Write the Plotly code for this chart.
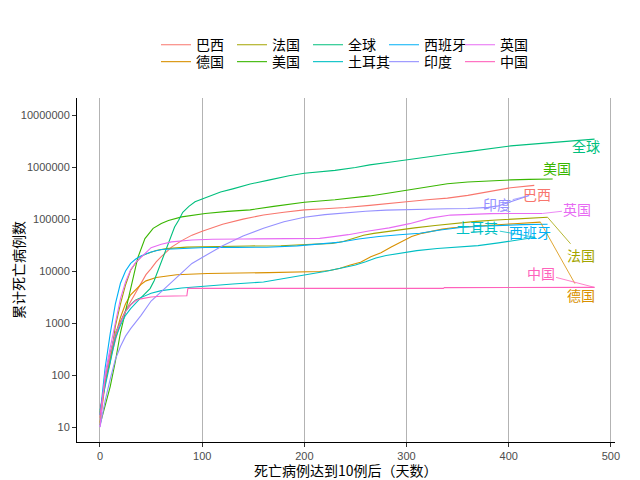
""" 累计死亡病例数：死亡病例达到10例后的天数 """
import numpy as np
import plotly.graph_objects as go

# Values (day since 10th death, cumulative deaths)
brazil_days = [0, 5, 10, 15, 20, 25, 30, 35, 40, 45, 50, 55, 60, 70, 80, 90, 100, 120, 140, 160,
               180, 200, 220, 240, 264, 280, 300, 320, 340, 360, 380, 402, 425]
brazil_deaths = [15, 77, 201, 486, 1057, 1736, 2575, 4016, 5901, 8500, 11123, 15000, 18859, 28834,
                 38406, 48954, 58314, 79488, 99572, 119504, 135000, 150000, 158000, 166000, 183000,
                 194000, 215000, 235000, 252000, 285000, 335000, 400000, 444000]

germany_days = [0, 5, 10, 15, 20, 25, 30, 35, 40, 45, 55, 75, 105, 165, 195, 215, 225, 235, 245, 255,
                265, 275, 285, 295, 305, 315, 325, 335, 345, 365, 385, 405, 431]
germany_deaths = [12, 67, 206, 560, 1275, 2349, 3495, 4459, 5500, 6467, 7510, 8500, 8960, 9300, 9500,
                  9800, 10200, 11300, 13000, 14800, 18800, 22400, 29000, 37000, 46000, 53000, 59000,
                  64000, 68000, 73000, 76900, 81000, 87000]

france_days = [0, 5, 10, 15, 20, 25, 30, 35, 40, 45, 55, 65, 85, 115, 146, 177, 207, 227, 238, 248,
               258, 268, 288, 308, 328, 348, 368, 388, 408, 428, 438]
france_deaths = [19, 79, 175, 860, 2314, 5387, 10328, 14393, 18681, 21340, 24760, 26991, 28800, 29800,
                 30300, 30700, 32000, 34000, 37000, 42500, 48700, 53000, 60500, 67500, 75000, 83000,
                 90000, 95600, 101000, 106000, 108000]

usa_days = [0, 5, 10, 15, 20, 23, 28, 33, 37, 44, 52, 60, 67, 80, 90, 103, 125, 147, 170, 200, 230,
            250, 264, 280, 300, 320, 340, 360, 380, 402, 420, 443]
usa_deaths = [11, 25, 60, 180, 650, 1150, 3200, 7700, 18000, 42000, 66000, 82000, 94000, 110000,
              118000, 128000, 140000, 150000, 175000, 210000, 234000, 255000, 278000, 310000, 360000,
              420000, 475000, 515000, 543000, 565000, 578000, 589000]

world_days = [0, 5, 10, 15, 20, 25, 30, 35, 40, 46, 49, 53, 57, 61, 65, 69, 73, 77, 81, 87, 93, 100,
              110, 118, 130, 147, 165, 185, 200, 230, 250, 264, 285, 300, 315, 330, 345, 360, 376,
              390, 402, 420, 435, 450, 465, 484]
world_deaths = [17, 82, 260, 640, 1020, 1670, 2250, 2760, 3050, 3950, 4600, 6500, 10500, 17500, 29000,
                45000, 70000, 95000, 135000, 175000, 215000, 243000, 290000, 330000, 380000, 470000,
                560000, 680000, 760000, 860000, 980000, 1100000, 1250000, 1380000, 1520000, 1660000,
                1820000, 1980000, 2200000, 2400000, 2550000, 2720000, 2870000, 3000000, 3200000, 3440000]

turkey_days = [0, 5, 10, 15, 20, 25, 30, 40, 50, 60, 80, 100, 130, 160, 190, 220, 240, 250, 260, 270,
               280, 290, 310, 330, 350, 370, 390, 400, 410, 420, 426]
turkey_deaths = [21, 59, 168, 501, 908, 1403, 1890, 3081, 3739, 4199, 4729, 5131, 5645, 6139, 7711,
                 9799, 11820, 13014, 15103, 17851, 19878, 21488, 24640, 27093, 28900, 30772, 34734,
                 37329, 40844, 43589, 44537]

spain_days = [0, 5, 10, 15, 20, 25, 30, 35, 40, 50, 60, 80, 103, 133, 163, 193, 213, 233, 253, 273,
              293, 313, 333, 353, 373, 393, 413, 438]
spain_deaths = [17, 136, 623, 2311, 5812, 10003, 14045, 16972, 19478, 23190, 25857, 27117, 28315, 28420,
                28670, 30405, 32486, 35466, 41253, 46252, 49824, 53314, 61386, 68813, 72565, 75783,
                77943, 79500]

india_days = [0, 5, 10, 15, 20, 25, 30, 40, 50, 60, 70, 80, 90, 100, 120, 140, 160, 180, 200, 220, 240,
              260, 280, 300, 320, 340, 360, 380, 390, 400, 410, 420]
india_deaths = [10, 32, 83, 199, 353, 559, 779, 1389, 2649, 4021, 6075, 9195, 14011, 18213, 30601,
                47033, 66333, 88935, 108334, 121641, 132726, 141360, 148439, 152556, 155114, 157248,
                159755, 167642, 178769, 204832, 242362, 283248]

uk_days = [0, 5, 10, 15, 20, 25, 30, 35, 40, 50, 60, 70, 90, 110, 140, 170, 200, 215, 225, 243, 263,
           283, 303, 323, 343, 363, 383, 433]
uk_deaths = [10, 104, 335, 1019, 2921, 6159, 10612, 14607, 18100, 28131, 32692, 36393, 39500, 40800,
             41300, 41500, 41700, 42500, 44800, 50000, 59000, 67600, 81400, 104000, 119000, 125000,
             127000, 127700]

china_days = [0, 5, 10, 15, 20, 25, 30, 35, 40, 50, 60, 70, 85, 86, 336, 337, 484]
china_deaths = [17, 82, 259, 638, 1017, 1666, 2236, 2715, 2915, 3172, 3261, 3312, 3346, 4636, 4634,
                4800, 4846]

y_tick_vals = [10, 100, 1000, 10000, 100000, 1000000, 10000000]
y_tick_text = ['10', '100', '1000', '10000', '100000', '1000000', '10000000']
x_tick_vals = [0, 100, 200, 300, 400, 500]

# name, days, deaths, colour, legend row, label offset (px) and whether a segment is drawn
series = [
    ('巴西', brazil_days, brazil_deaths, '#F8766D', 'legend', (3, 9, False)),
    ('德国', germany_days, germany_deaths, '#D89000', 'legend2', (41, 73, True)),
    ('法国', france_days, france_deaths, '#A3A500', 'legend', (33, 38, True)),
    ('美国', usa_days, usa_deaths, '#39B600', 'legend2', (4, -11, False)),
    ('全球', world_days, world_deaths, '#00BF7D', 'legend', (-9, 7, False)),
    ('土耳其', turkey_days, turkey_deaths, '#00BFC4', 'legend2', (-58, -10, True)),
    ('西班牙', spain_days, spain_deaths, '#00B0F6', 'legend', (-18, 8, False)),
    ('印度', india_days, india_deaths, '#9590FF', 'legend2', (-32, 8, True)),
    ('英国', uk_days, uk_deaths, '#E76BF3', 'legend', (35, -4, True)),
    ('中国', china_days, china_deaths, '#FF62BC', 'legend2', (-54, -14, True)),
]

cjk = 'Noto Sans CJK SC'
fig = go.Figure()

for name, days, deaths, color, legend, (ax, ay, seg) in series:
    fig.add_scatter(x=days, y=deaths, name=name, mode='lines', legend=legend,
                    line=dict(color=color, width=1.1))
    # end-of-line label, repelled like ggrepel with a thin segment where needed
    if seg:
        fig.add_annotation(x=days[-1], y=np.log10(deaths[-1]), text=name, showarrow=True,
                           ax=ax, ay=ay, arrowhead=0, arrowwidth=0.8, arrowcolor=color, standoff=0,
                           font=dict(size=14, color=color, family=cjk))
    else:
        fig.add_annotation(x=days[-1], y=np.log10(deaths[-1]), text=name, showarrow=False,
                           xshift=ax, yshift=-ay, font=dict(size=14, color=color, family=cjk))

# axis titles
fig.add_annotation(x=0.5, y=0, xref='paper', yref='paper', yshift=-28, yanchor='middle',
                   text='死亡病例达到10例后（天数）', showarrow=False,
                   font=dict(size=14, family=cjk, color='black'))
fig.add_annotation(x=0, y=0.5, xref='paper', yref='paper', xshift=-59, xanchor='center',
                   text='累计死亡病例数', textangle=-90, showarrow=False,
                   font=dict(size=14, family=cjk, color='black'))

legend_style = dict(orientation='h', x=0.5, xanchor='center', yanchor='top',
                    font=dict(size=14, family=cjk, color='black'), entrywidth=31,
                    bgcolor='rgba(0,0,0,0)')
fig.update_layout(
    width=632, height=472,
    margin=dict(l=69, r=25, t=90, b=38, autoexpand=False),
    plot_bgcolor='white', paper_bgcolor='white',
    font=dict(family='Liberation Sans, ' + cjk, color='black'),
    legend=dict(y=1.2, **legend_style),
    legend2=dict(y=1.151, **legend_style),
)
fig.update_xaxes(range=[-22.5, 504], tickvals=x_tick_vals, showgrid=True, gridcolor='#B3B3B3',
                 gridwidth=1, zeroline=False, showline=True, linecolor='black', linewidth=1,
                 ticks='outside', ticklen=4, tickcolor='#333333', automargin=False,
                 tickfont=dict(size=11, color='#4D4D4D'))
fig.update_yaxes(type='log', range=[0.712, 7.327], tickvals=y_tick_vals, ticktext=y_tick_text,
                 showgrid=False, zeroline=False, showline=True, linecolor='black', linewidth=1,
                 ticks='outside', ticklen=4, tickcolor='#333333', automargin=False,
                 tickfont=dict(size=11, color='#4D4D4D'))

fig.write_html('out.html')
